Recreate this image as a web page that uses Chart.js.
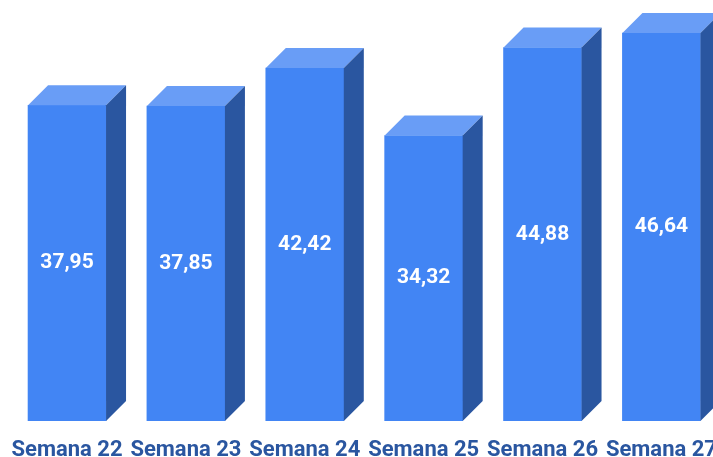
<!DOCTYPE html>
<html>
<head>
<meta charset="utf-8">
<script src="https://cdn.jsdelivr.net/npm/chart.js@4"></script>
<style>
  html, body { margin: 0; padding: 0; background: #ffffff; overflow: hidden; }
  #week_chart { display: block; }
</style>
</head>
<body>
<canvas id="week_chart" width="725" height="457"></canvas>
<script>
const week_labels = ['Semana 22', 'Semana 23', 'Semana 24', 'Semana 25', 'Semana 26', 'Semana 27'];
const week_values = [37.95, 37.85, 42.42, 34.32, 44.88, 46.64];

const bar_palette = {
    front: '#4285f4',
    top: '#699df6',
    side: '#2a56a0',
    label: '#2a56a0',
};

const depth = 20;

// draws the top and side faces plus the value inside the front face
const box_plugin = {
    id: 'box_plugin',
    afterDatasetsDraw(chart) {
        const ctx = chart.ctx;
        const meta = chart.getDatasetMeta(0);
        ctx.save();
        meta.data.forEach(function (bar, idx) {
            const half = bar.width / 2;
            const left = bar.x - half;
            const right = bar.x + half;
            const top = bar.y;
            const base = bar.base;

            ctx.fillStyle = bar_palette.top;
            ctx.beginPath();
            ctx.moveTo(left, top);
            ctx.lineTo(left + depth, top - depth);
            ctx.lineTo(right + depth, top - depth);
            ctx.lineTo(right, top);
            ctx.closePath();
            ctx.fill();

            ctx.fillStyle = bar_palette.side;
            ctx.beginPath();
            ctx.moveTo(right, top);
            ctx.lineTo(right + depth, top - depth);
            ctx.lineTo(right + depth, base - depth);
            ctx.lineTo(right, base);
            ctx.closePath();
            ctx.fill();

            ctx.fillStyle = '#ffffff';
            ctx.font = 'bold 21px Roboto';
            ctx.textAlign = 'center';
            ctx.textBaseline = 'middle';
            ctx.fillText(week_values[idx].toFixed(2).replace('.', ','), bar.x, (top + base) / 2);
        });
        ctx.restore();
    },
};

new Chart(document.getElementById('week_chart').getContext('2d'), {
    type: 'bar',
    data: {
        labels: week_labels,
        datasets: [
            {
                data: week_values,
                backgroundColor: bar_palette.front,
                borderWidth: 0,
                barThickness: 78,
            },
        ],
    },
    options: {
        responsive: false,
        animation: false,
        layout: { padding: { top: 5, left: 7.6, right: 0.6, bottom: 0 } },
        plugins: {
            legend: { display: false },
            tooltip: { enabled: false },
        },
        scales: {
            x: {
                grid: { display: false },
                border: { display: false },
                ticks: {
                    color: bar_palette.label,
                    font: { family: 'Roboto', size: 22, weight: 'bold' },
                    autoSkip: false,
                    maxRotation: 0,
                    padding: 8,
                },
                afterFit: function (scale) {
                    scale.height = 36;
                },
            },
            y: {
                display: false,
                min: 0,
                max: 50,
            },
        },
    },
    plugins: [box_plugin],
});
</script>
</body>
</html>
